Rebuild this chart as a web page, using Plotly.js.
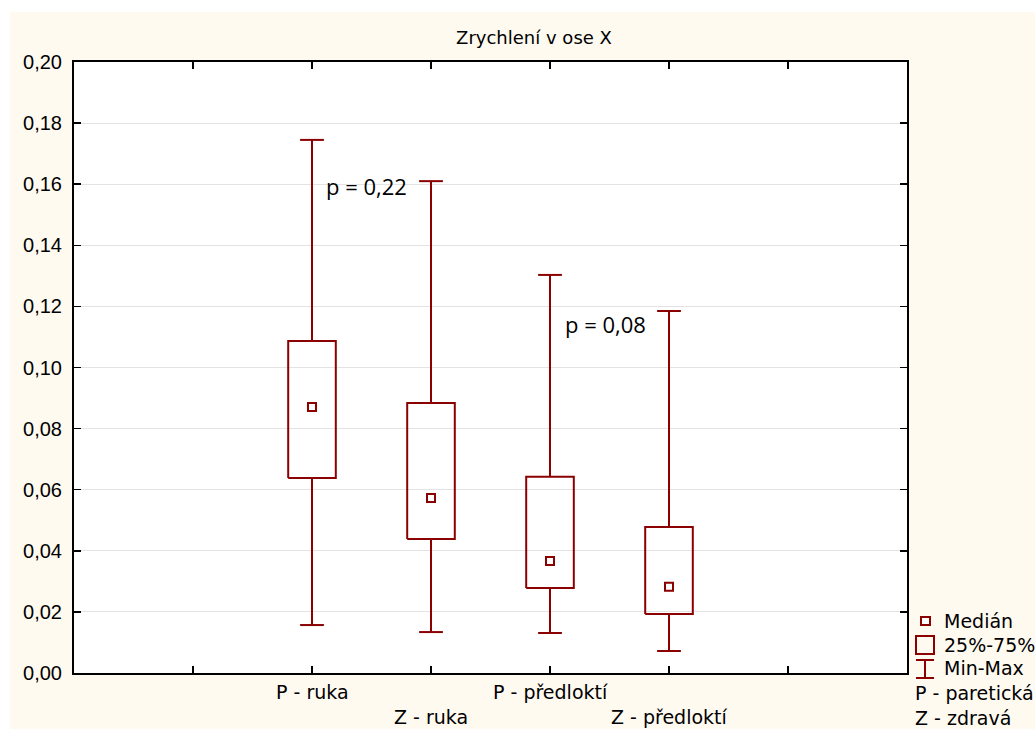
<!DOCTYPE html>
<html>
<head>
<meta charset="utf-8">
<script src="https://cdn.plot.ly/plotly-3.0.1.min.js"></script>
<style>
  html, body { margin: 0; padding: 0; background: #ffffff; }
  #chart { position: absolute; left: 10px; top: 12px; width: 1025px; height: 717px; }
</style>
</head>
<body>
<div id="chart"></div>
<script>
// ---- data ----
const categories = ["P - ruka", "Z - ruka", "P - předloktí", "Z - předloktí"];
const positions = [2, 3, 4, 5];
const minVals    = [0.0157, 0.0134, 0.0131, 0.0072];
const q1Vals     = [0.0638, 0.0439, 0.0278, 0.0193];
const medianVals = [0.0871, 0.0573, 0.0367, 0.0282];
const q3Vals     = [0.1087, 0.0884, 0.0642, 0.0478];
const maxVals    = [0.1745, 0.1610, 0.1303, 0.1185];
const pLabels = ["p = 0,22", "p = 0,08"];
const pLabelX = [2.46, 4.47];
const pLabelY = [0.1595, 0.1142];
const legendItems = ["Medián", "25%-75%", "Min-Max"];
const noteItems = ["P - paretická", "Z - zdravá"];

// ---- layout constants ----
const OX = 10, OY = 12;           // div offset
const W = 1025, H = 717;
const M = { l: 64, r: 128, t: 50, b: 56 };
const plotW = W - M.l - M.r, plotH = H - M.t - M.b;
const px = X => (X - OX - M.l) / plotW;        // page pixel -> paper x
const py = Y => (H - M.b - (Y - OY)) / plotH;  // page pixel -> paper y

const RED = "#8B0000";
const halfBox = 0.2, halfCap = 0.1;

// boxes
const bx = [], by = [];
positions.forEach((c, i) => {
  bx.push(c - halfBox, c + halfBox, c + halfBox, c - halfBox, c - halfBox, null);
  by.push(q1Vals[i], q1Vals[i], q3Vals[i], q3Vals[i], q1Vals[i], null);
});
// whiskers + caps
const wx = [], wy = [];
positions.forEach((c, i) => {
  wx.push(c, c, null, c, c, null, c - halfCap, c + halfCap, null, c - halfCap, c + halfCap, null);
  wy.push(q3Vals[i], maxVals[i], null, q1Vals[i], minVals[i], null, maxVals[i], maxVals[i], null, minVals[i], minVals[i], null);
});

const traces = [
  { type: "scatter", mode: "lines", x: wx, y: wy, line: { color: RED, width: 2 }, hoverinfo: "skip", showlegend: false, cliponaxis: false },
  { type: "scatter", mode: "lines", x: bx, y: by, line: { color: RED, width: 2 }, hoverinfo: "skip", showlegend: false, cliponaxis: false },
  { type: "scatter", mode: "markers", x: positions, y: medianVals,
    marker: { symbol: "square", size: 8, color: "#ffffff", line: { color: RED, width: 2 } },
    showlegend: false, cliponaxis: false }
];

const annotations = [];
// category labels, staggered
categories.forEach((t, i) => {
  annotations.push({
    xref: "x", yref: "paper", x: positions[i], y: 0, yanchor: "middle", xanchor: "center",
    yshift: (i % 2 === 0) ? -19 : -44, showarrow: false, text: t,
    font: { family: "DejaVu Sans", size: 19, color: "#000000" }
  });
});
// p labels
pLabels.forEach((t, i) => {
  annotations.push({
    xref: "x", yref: "y", x: pLabelX[i], y: pLabelY[i], xanchor: "center", yanchor: "middle",
    showarrow: false, text: t, font: { family: "Open Sans", size: 22, color: "#000000" }
  });
});
// legend text
const legendY = [621, 645, 668];
legendItems.forEach((t, i) => {
  annotations.push({
    xref: "paper", yref: "paper", x: px(942), y: py(legendY[i]), xanchor: "left", yanchor: "middle",
    showarrow: false, text: t, font: { family: "DejaVu Sans", size: 19, color: "#000000" }
  });
});
const noteY = [693, 718];
noteItems.forEach((t, i) => {
  annotations.push({
    xref: "paper", yref: "paper", x: px(913), y: py(noteY[i]), xanchor: "left", yanchor: "middle",
    showarrow: false, text: t, font: { family: "DejaVu Sans", size: 19, color: "#000000" }
  });
});

const shapes = [
  // median symbol
  { type: "rect", xref: "paper", yref: "paper", x0: px(921), x1: px(930), y0: py(625), y1: py(617),
    line: { color: RED, width: 2 }, fillcolor: "#ffffff" },
  // box symbol
  { type: "rect", xref: "paper", yref: "paper", x0: px(916), x1: px(934), y0: py(654), y1: py(636),
    line: { color: RED, width: 2 }, fillcolor: "rgba(0,0,0,0)" },
  // min-max symbol
  { type: "line", xref: "paper", yref: "paper", x0: px(925), x1: px(925), y0: py(678), y1: py(660), line: { color: RED, width: 2 } },
  { type: "line", xref: "paper", yref: "paper", x0: px(916), x1: px(934), y0: py(660), y1: py(660), line: { color: RED, width: 2 } },
  { type: "line", xref: "paper", yref: "paper", x0: px(916), x1: px(934), y0: py(678), y1: py(678), line: { color: RED, width: 2 } }
];

const layout = {
  width: W, height: H,
  margin: M,
  paper_bgcolor: "#fffaf0",
  plot_bgcolor: "#ffffff",
  separators: ", ",
  showlegend: false,
  title: {
    text: "Zrychlení v ose X", xref: "container", yref: "container",
    x: (534 - OX) / W, y: 1 - (38 - OY) / H, xanchor: "center", yanchor: "middle",
    font: { family: "DejaVu Sans", size: 18, color: "#000000" }
  },
  xaxis: {
    range: [0, 7], tickvals: [1, 2, 3, 4, 5, 6], showticklabels: false,
    ticks: "inside", ticklen: 7, tickwidth: 1.5, tickcolor: "#000000",
    showgrid: false, zeroline: false,
    showline: true, linecolor: "#000000", linewidth: 2, mirror: "ticks"
  },
  yaxis: {
    range: [0, 0.2], dtick: 0.02, tick0: 0, tickformat: ".2f",
    ticks: "inside", ticklen: 7, tickwidth: 1.5, tickcolor: "#000000",
    ticklabelstandoff: 6,
    tickfont: { family: "Liberation Sans", size: 20, color: "#000000" },
    showgrid: true, gridcolor: "#e3e3e3", gridwidth: 1, zeroline: false,
    showline: true, linecolor: "#000000", linewidth: 2, mirror: "ticks"
  },
  annotations: annotations,
  shapes: shapes
};

Plotly.newPlot("chart", traces, layout, { displayModeBar: false, staticPlot: true });
</script>
</body>
</html>
